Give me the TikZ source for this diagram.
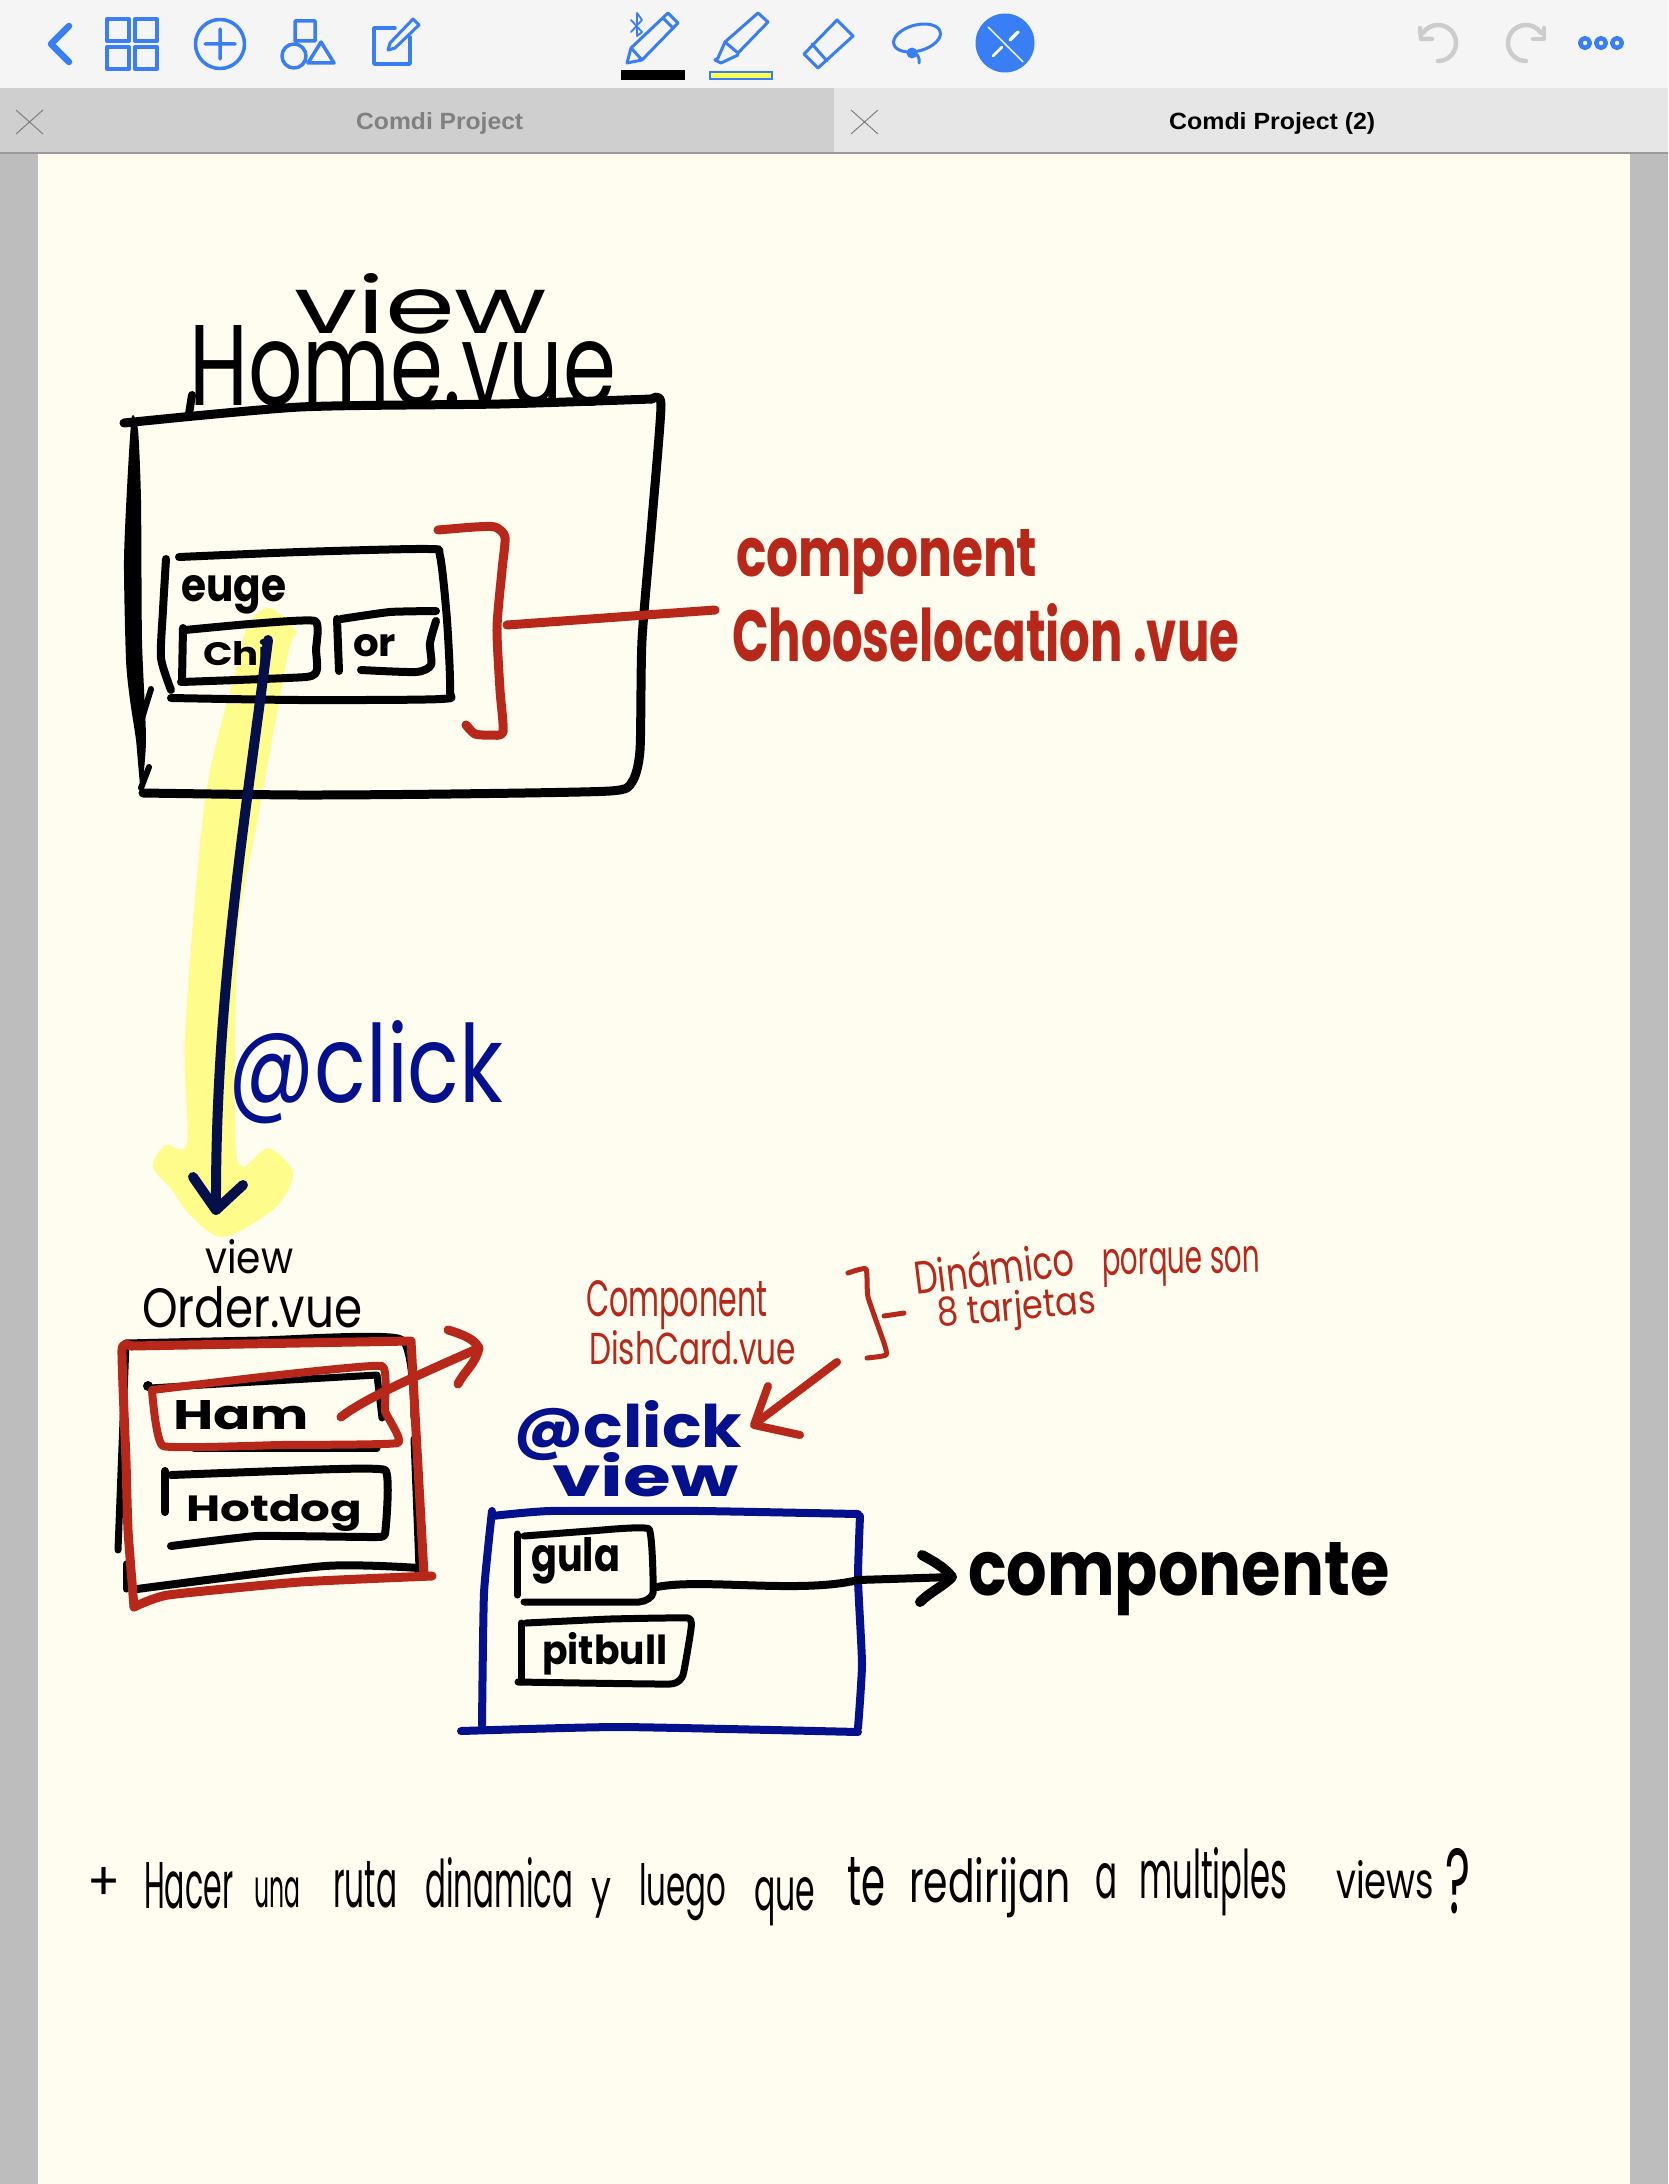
\documentclass[tikz,border=0pt]{standalone}
\usepackage{fontspec}
\usepackage{graphicx}
\newfontfamily\hwf{Poppins}
\newfontfamily\tabf{Liberation Sans}
\definecolor{pagebg}{HTML}{FFFDEF}
\definecolor{sidegray}{HTML}{BDBDBD}
\definecolor{barbg}{HTML}{F5F5F5}
\definecolor{tabA}{HTML}{CFCFCF}
\definecolor{tabB}{HTML}{E6E6E6}
\definecolor{ired}{HTML}{B8281A}
\definecolor{iblue}{HTML}{04108C}
\definecolor{inavy}{HTML}{050F4C}
\definecolor{ihigh}{HTML}{FEFC8A}
\definecolor{ibar}{HTML}{FFFF4D}
\definecolor{ui}{HTML}{3A7EF5}
\definecolor{uigray}{HTML}{CCCCCC}
\newcommand\hw[8]{\node[inner sep=0pt,anchor=base west,rotate=#6,text=#7] (#1) at (#2,#3) {\resizebox{#4pt}{#5pt}{#8}};}
\tikzset{
  ink/.style={line width=#1,line cap=round,line join=round},
  ink/.default=9pt,
  uiline/.style={draw=ui,line width=3.5pt,line join=round,line cap=round},
  graystroke/.style={draw=uigray,line width=4.5pt,line cap=round,line join=round},
}
\begin{document}
\begin{tikzpicture}[x=1pt,y=-1pt]
\useasboundingbox (0,0) rectangle (1668,2184);
% chrome
\fill[sidegray] (0,0) rectangle (1668,2184);
\fill[pagebg] (38,154) rectangle (1630,2184);
\fill[barbg] (0,0) rectangle (1668,88);
\fill[tabA] (0,88) rectangle (834,153);
\fill[tabB] (834,88) rectangle (1668,153);
\draw[line width=1.5pt,color=gray!80] (0,153) -- (1668,153);
\draw[gray,line width=1pt] (16,110) -- (43,134) (43,110) -- (16,134);
\draw[gray,line width=1pt] (851,110) -- (878,134) (878,110) -- (851,134);
\hw{tabOne}{356}{129}{167}{17}{0}{black!50}{\tabf\bfseries Comdi Project}
\hw{tabTwo}{1169}{129}{206}{17}{0}{black}{\tabf\bfseries Comdi Project (2)}
% toolbar left
\draw[uiline,line width=6.5pt] (69,26) -- (51,44) -- (69,62);
\draw[uiline,line width=4pt] (107,19) rectangle (129,41) (135,19) rectangle (157,41) (107,47) rectangle (129,69) (135,47) rectangle (157,69);
\draw[uiline] (220,44) circle (24.5) (205,44) -- (235,44) (220,29) -- (220,59);
\draw[uiline] (295,21) rectangle (315,41) (294,56) circle (12) (321,42) -- (308,63) -- (334,63) -- cycle;
\draw[uiline] (395,28) -- (374,28) -- (374,64) -- (410,64) -- (410,37);
\draw[uiline,line width=3pt] (413,19) -- (419,25) -- (395,48) -- (388,50) -- (390,43) -- cycle;
% pens
\draw[uiline,line width=3pt] (668,13) -- (678,23) -- (642,60) -- (627,63) -- (631,48) -- cycle (663,18) -- (673,28) (632,49) -- (642,60);
\draw[uiline,line width=1.8pt] (631,20) -- (642,32) -- (637,36) -- (637,13) -- (642,20) -- (631,32);
\fill[black] (621,70) rectangle (685,80);
\draw[uiline,line width=3pt] (758,13) -- (768,22) -- (738,53) -- (725,42) -- cycle (725,42) -- (718,58) -- (715,60) -- (721,63) -- (738,55);
\fill[ibar,draw=ui,line width=2.5pt] (710,72) rectangle (772,79);
\draw[uiline,line width=3pt] (837,20) -- (853,36) -- (818,68) -- (804,54) -- cycle (812,44) -- (827,61);
\draw[uiline,line width=3pt,rotate around={15:(917,38)}] (917,38) ellipse (24 and 13);
\fill[ui] (912,53) circle (5.5);
\draw[uiline,line width=3pt] (912,53) .. controls (917,53) and (920,57) .. (919,63);
\fill[ui] (1005,43) circle (29.5);
\draw[white,line width=1.4pt] (988,27) -- (1023,62);
\draw[white,line width=3.5pt,line cap=round] (1018,32) -- (1010,40);
\draw[white,line width=2.5pt,line cap=round] (1002,47) -- (993,56);
% undo redo more
\draw[graystroke] plot[domain=-146:90,samples=40,smooth] ({1438+18*cos(\x)},{43+18*sin(\x)});
\draw[graystroke] (1420,28) -- (1421,39) -- (1432,39);
\draw[graystroke] plot[domain=-34:-270,samples=40,smooth] ({1526+18*cos(\x)},{43+18*sin(\x)});
\draw[graystroke] (1544,28) -- (1544,39) -- (1533,39);
\draw[uiline,line width=4.5pt] (1585,43) circle (4.8) (1601,43) circle (4.8) (1617,43) circle (4.8);
% highlighter
\fill[ihigh] plot[smooth cycle,tension=.5] coordinates {(270,608)(296,632)(288,654)(258,817)(238,933)(235,1133)(243,1167)(268,1148)(293,1173)(275,1208)(223,1237)(190,1215)(172,1190)(153,1167)(165,1145)(187,1143)(185,1033)(205,800)(234,677)(248,625)};
% Home box
\draw[ink] plot[smooth,tension=.4] coordinates {(124,423)(300,407)(500,404)(652,399)};
\draw[ink] plot[smooth,tension=.4] coordinates {(652,399)(661,405)(652,520)(642,640)(640,750)(632,782)(610,791)(450,794)(300,795)(143,793)};
\fill[black] plot[smooth cycle,tension=.4] coordinates {(132,416)(128,470)(124,560)(126,660)(130,700)(136,740)(141,790)(146,740)(142,640)(141,500)(138,430)};
\draw[ink=6pt] (151,689) -- (140,725);
\draw[ink=6pt] (149,767) -- (141,788);
\draw[ink=8pt] (189,414) -- (192,395);
% inner box
\draw[ink=8pt] plot[smooth,tension=.4] coordinates {(179,557)(300,552)(428,549)(440,556)(447,620)(450,690)(441,699)(300,700)(171,698)};
\draw[ink=8pt] plot[smooth,tension=.4] coordinates {(166,559)(163,610)(161,658)(171,690)};
\draw[ink=8pt] plot[smooth,tension=.3] coordinates {(185,630)(250,624)(315,621)(316,650)(317,669)(306,677)(181,682)};
\draw[ink=8pt] (183,628) -- (182,681);
\draw[ink=8pt] (337,619) -- (339,671);
\draw[ink=8pt] plot[smooth,tension=.3] coordinates {(341,619)(390,612)(436,611)};
\draw[ink=8pt] plot[smooth,tension=.4] coordinates {(436,621)(430,643)(431,665)(416,672)(361,670)};
\hw{euge}{181}{601}{105}{26}{0}{black}{\hwf\bfseries euge}
\hw{chi}{203}{665}{67}{26}{0}{black}{\hwf\bfseries Chi}
\hw{orLabel}{353}{656}{43}{22}{0}{black}{\hwf\bfseries or}
\hw{homeView}{294}{333}{253}{60}{0}{black}{\hwf view}
\hw{homeName}{189}{405}{427}{80}{0}{black}{\hwf Home.vue}
% red bracket and label
\draw[ink,ired] plot[smooth,tension=.4] coordinates {(438,530)(475,527)(495,527)(505,537)(502,570)(497,628)(500,690)(503,732)(490,735)(475,734)(466,725)};
\coordinate (bracketMid) at (507,625);
\coordinate (labelLeft) at (715,610);
\draw[ink,ired] (bracketMid) -- (labelLeft);
\hw{compTop}{736}{576}{301}{47}{0}{ired}{\hwf\bfseries component}
\hw{compName}{732}{661}{507}{58}{0}{ired}{\hwf\bfseries Chooselocation .vue}
% navy arrow
\coordinate (chiOut) at (268,640);
\coordinate (orderIn) at (216,1210);
\draw[ink=10pt,inavy] (chiOut) .. controls (245,820) and (215,1000) .. (orderIn);
\draw[ink=10pt,inavy] (193,1177) -- (216,1210) -- (243,1185);
\hw{clickBig}{228}{1102}{275}{82}{0}{iblue}{\hwf @click}
% Order
\hw{orderView}{205}{1273}{88}{34}{0}{black}{\hwf view}
\hw{orderName}{142}{1327}{220}{41}{0}{black}{\hwf Order.vue}
\draw[ink=7pt] plot[smooth,tension=.3] coordinates {(126,1343)(260,1340)(401,1339)(414,1418)};
\draw[ink=7pt] (414,1439) -- (419,1568);
\draw[ink=8pt] plot[smooth,tension=.4] coordinates {(419,1568)(325,1566)(137,1589)};
\draw[ink=7pt] (126,1343) -- (118,1550);
\draw[ink=7pt] (126,1564) -- (126,1589);
\fill (148,1386) circle (5);
\draw[ink=7pt] (150,1388) -- (377,1375) -- (382,1418);
\draw[ink=7pt] (194,1448) -- (377,1448);
\draw[ink=8pt] (165,1471) -- (165,1512);
\draw[ink=8pt] plot[smooth,tension=.2] coordinates {(171,1475)(280,1471)(385,1470)(385,1534)(372,1537)(257,1536)(171,1546)};
\hw{ham}{173}{1429}{136}{29}{0}{black}{\hwf\bfseries Ham}
\hw{hotdog}{186}{1521}{176}{27}{0}{black}{\hwf\bfseries Hotdog}
\draw[ink=9pt,ired] (131,1346) -- (411,1341) -- (424,1575);
\draw[ink=9pt,ired] plot[smooth,tension=.3] coordinates {(432,1576)(300,1582)(168,1595)(134,1607)};
\draw[ink=9pt,ired] plot[smooth,tension=.3] coordinates {(134,1607)(128,1530)(126,1461)(122,1350)(131,1346)};
\draw[ink=8pt,ired] plot[smooth,tension=.2] coordinates {(152,1390)(270,1376)(382,1366)(385,1411)(398,1443)(280,1445)(163,1446)(152,1390)};
\coordinate (hamOut) at (341,1417);
\coordinate (hamTip) at (479,1348);
\draw[ink=9pt,ired] (hamOut) .. controls (365,1398) and (425,1372) .. (hamTip);
\draw[ink=9pt,ired] (448,1330) .. controls (465,1335) and (475,1340) .. (hamTip) .. controls (475,1365) and (465,1370) .. (458,1384);
\hw{dishOne}{586}{1316}{181}{36}{0}{ired}{\hwf Component}
\hw{dishTwo}{589}{1364}{207}{34}{0}{ired}{\hwf DishCard.vue}
% dynamic note
\draw[ink=5pt,ired] plot[smooth,tension=.3] coordinates {(848,1273)(866,1269)(868,1297)(884,1343)(886,1355)(867,1358)};
\draw[ink=5pt,ired] (884,1316) -- (904,1313);
\hw{dinamico}{916}{1295}{161}{36}{7}{ired}{\hwf Dinámico}
\hw{porque}{1102}{1275}{158}{26}{1}{ired}{\hwf porque son}
\hw{tarjetas}{938}{1327}{159}{30}{5}{ired}{\hwf 8 tarjetas}
\coordinate (noteOut) at (837,1362);
\coordinate (clickIn) at (756,1423);
\draw[ink=8pt,ired] (noteOut) -- (clickIn);
\draw[ink=8pt,ired] (768,1386) -- (754,1425) -- (800,1435);
% second view
\hw{clickSmall}{513}{1447}{229}{47}{0}{iblue}{\hwf\bfseries @click}
\hw{blueView}{552}{1496}{186}{44}{0}{iblue}{\hwf\bfseries view}
\draw[ink=8pt,iblue] plot[smooth,tension=.3] coordinates {(492,1516)(550,1511)(700,1511)(858,1514)};
\draw[ink=8pt,iblue] plot[smooth,tension=.3] coordinates {(860,1516)(858,1579)(862,1664)(858,1728)};
\draw[ink=8pt,iblue] plot[smooth,tension=.3] coordinates {(858,1732)(620,1727)(461,1731)};
\draw[ink=8pt,iblue] plot[smooth,tension=.3] coordinates {(492,1511)(484,1593)(482,1725)};
\draw[ink=7pt] (517,1534) -- (517,1595);
\draw[ink=7pt] plot[smooth,tension=.2] coordinates {(524,1536)(590,1531)(649,1529)(653,1593)(639,1602)(524,1602)};
\draw[ink=7pt] (521,1623) -- (521,1682);
\draw[ink=7pt] plot[smooth,tension=.2] coordinates {(526,1623)(610,1619)(688,1618)(691,1629)(683,1675)(670,1684)(518,1682)};
\hw{gula}{531}{1571}{89}{34}{0}{black}{\hwf\bfseries gula}
\hw{pitbull}{542}{1664}{125}{32}{0}{black}{\hwf\bfseries pitbull}
\coordinate (gulaOut) at (657,1587);
\coordinate (compTip) at (952,1577);
\draw[ink=8pt] (gulaOut) .. controls (701,1578) and (800,1594) .. (858,1580) -- (compTip);
\draw[ink=10pt] (922,1555) .. controls (935,1562) and (945,1568) .. (compTip) .. controls (945,1585) and (930,1592) .. (920,1602);
\hw{componente}{968}{1595}{421}{53}{0}{black}{\hwf\bfseries componente}
% sentence
\hw{plusSign}{87}{1900}{33}{33}{0}{black}{\hwf +}
\hw{wHacer}{144}{1908}{89}{46}{0}{black}{\hwf Hacer}
\hw{wuna}{254}{1907}{46}{30}{0}{black}{\hwf una}
\hw{wruta}{333}{1907}{64}{46}{0}{black}{\hwf ruta}
\hw{wdin}{425}{1907}{148}{50}{0}{black}{\hwf dinamica}
\hw{wy}{591}{1905}{20}{27}{0}{black}{\hwf y}
\hw{wluego}{639}{1905}{87}{42}{0}{black}{\hwf luego}
\hw{wque}{754}{1910}{61}{33}{0}{black}{\hwf que}
\hw{wte}{847}{1905}{38}{48}{0}{black}{\hwf te}
\hw{wred}{909}{1902}{161}{45}{0}{black}{\hwf redirijan}
\hw{wa}{1095}{1898}{22}{35}{0}{black}{\hwf a}
\hw{wmul}{1139}{1898}{148}{51}{0}{black}{\hwf multiples}
\hw{wviews}{1336}{1898}{98}{38}{0}{black}{\hwf views}
\hw{wq}{1445}{1913}{25}{65}{0}{black}{\hwf ?}
\end{tikzpicture}
\end{document}
